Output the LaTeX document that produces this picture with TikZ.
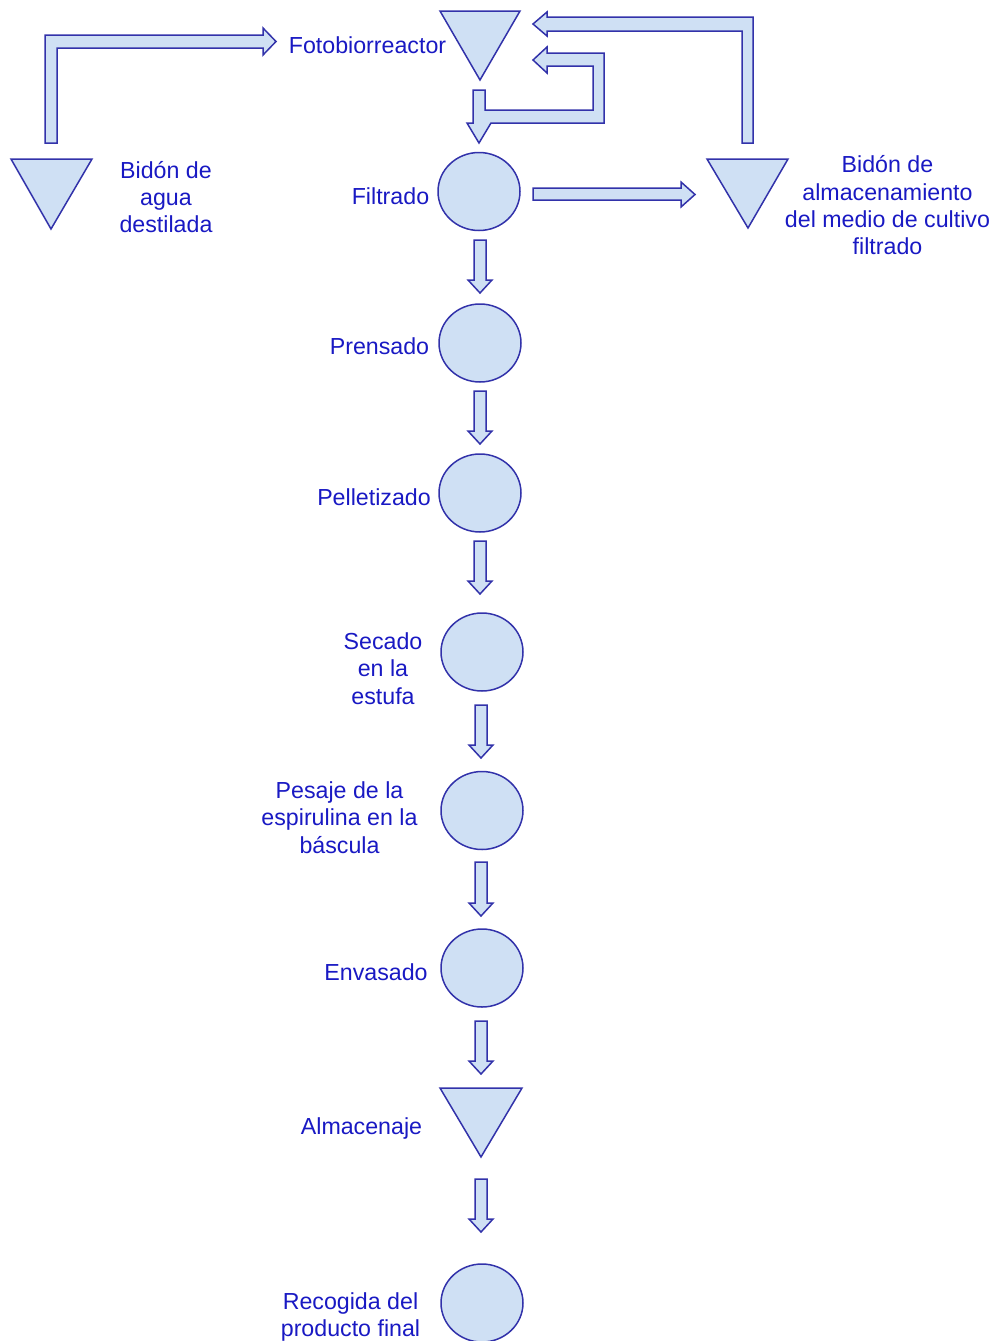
\documentclass[tikz,border=0pt]{standalone}
\usepackage{fontspec}
\setmainfont{Liberation Sans}
\usetikzlibrary{shapes.geometric}
\definecolor{fillb}{RGB}{207,224,244}
\definecolor{lineb}{RGB}{50,50,170}
\definecolor{textb}{RGB}{25,25,195}
\tikzset{
  shapebox/.style={draw=lineb, fill=fillb, line width=1.5pt, line join=miter},
  circ/.style={shapebox, ellipse, minimum width=82pt, minimum height=78pt, inner sep=0pt},
  blockarrow/.style={shapebox},
  lbl/.style={text=textb, font=\fontsize{23.2}{27.3}\selectfont, align=center, inner sep=0pt},
}
\newcommand\vblock[3]{\draw[blockarrow] (#1-6,#2) -- (#1+6,#2) -- (#1+6,#3-13) -- (#1+12,#3-13) -- (#1,#3) -- (#1-12,#3-13) -- (#1-6,#3-13) -- cycle;}
\begin{document}
\begin{tikzpicture}[x=1pt,y=-1pt]
\useasboundingbox (0,0) rectangle (998,1341);

% triangles (storage)
\draw[shapebox] (440,11) coordinate (fbL) -- (520,11) coordinate (fbR) -- (480,80) coordinate (fbTip) -- cycle;
\draw[shapebox] (11,159) coordinate (agL) -- (92,159) coordinate (agR) -- (51,229) coordinate (agTip) -- cycle;
\draw[shapebox] (707,159) coordinate (alL) -- (788,159) coordinate (alR) -- (748,228) coordinate (alTip) -- cycle;
\draw[shapebox] (440,1088) coordinate (amL) -- (522,1088) coordinate (amR) -- (481,1157) coordinate (amTip) -- cycle;

% operations (circles)
\node[circ] (filt) at (479,191.5) {};
\node[circ] (pren) at (480,343) {};
\node[circ] (pell) at (480,493) {};
\node[circ] (seca) at (482,652) {};
\node[circ] (pesa) at (482,810.5) {};
\node[circ] (enva) at (482,968) {};
\node[circ] (reco) at (482,1303) {};

% block arrows
\draw[blockarrow] (45,143) -- (45,35) -- (263,35) -- (263,28) -- (276,41.5) -- (263,55) -- (263,48) -- (57,48) -- (57,143) -- cycle;
\draw[blockarrow] (753,143) -- (753,17) -- (547,17) -- (547,12) -- (533,24) -- (547,36) -- (547,31) -- (742,31) -- (742,143) -- cycle;
\draw[blockarrow] (473,90) -- (485,90) -- (485,110) -- (593,110) -- (593,66) -- (547,66) -- (547,73) -- (533,60) -- (547,47) -- (547,53) -- (604,53) -- (604,123) -- (491,123) -- (479,143) -- (467,123) -- (473,123) -- cycle;
\draw[blockarrow] (533,188) -- (681,188) -- (681,182) -- (695,194.5) -- (681,207) -- (681,200) -- (533,200) -- cycle;
\vblock{480}{240}{293}
\vblock{480}{391}{444}
\vblock{480}{541}{594}
\vblock{481}{705}{758}
\vblock{481}{862}{916}
\vblock{481}{1021}{1074}
\vblock{481}{1179}{1232}

% labels
\node[lbl, anchor=base] (tFoto) at (367.5,53.5) {Fotobiorreactor};
\node[lbl] (tAgua) at (166,197) {Bidón de\\agua\\destilada};
\node[lbl, anchor=base] (tFilt) at (390.5,204) {Filtrado};
\node[lbl] (tAlm) at (887.5,205.5) {Bidón de\\almacenamiento\\del medio de cultivo\\filtrado};
\node[lbl, anchor=base] (tPren) at (379.5,354.5) {Prensado};
\node[lbl, anchor=base] (tPell) at (374,505.5) {Pelletizado};
\node[lbl] (tSeca) at (383,668.5) {Secado\\en la\\estufa};
\node[lbl] (tPesa) at (339.5,817.5) {Pesaje de la\\espirulina en la\\báscula};
\node[lbl, anchor=base] (tEnva) at (376,980.5) {Envasado};
\node[lbl, anchor=base] (tAlmc) at (361.5,1134.5) {Almacenaje};
\node[lbl] (tReco) at (350.5,1317) {Recogida del\\producto final};
\end{tikzpicture}
\end{document}
